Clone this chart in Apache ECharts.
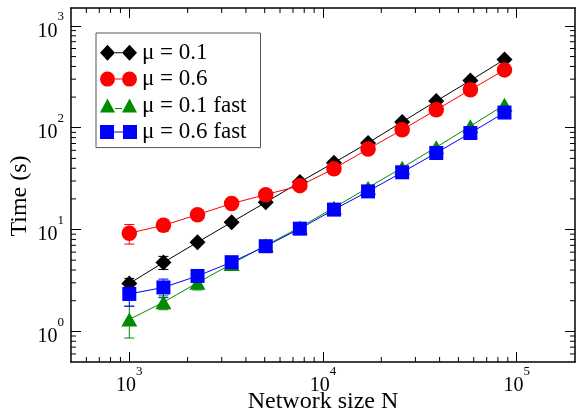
<!DOCTYPE html>
<html>
<head>
<meta charset="utf-8">
<script src="https://cdn.jsdelivr.net/npm/echarts@6/dist/echarts.min.js"></script>
<style>
  html, body { margin: 0; padding: 0; background: #fff; }
  #chart { width: 576px; height: 415px; }
</style>
</head>
<body>
<div id="chart"></div>
<script>
// Network sizes (N grows by a factor 1.5 per step)
const sizes = [1000, 1500, 2250, 3375, 5063, 7594, 11391, 17086, 25629, 38443, 57665, 86498];

// Running time in seconds
const timeMu01     = [2.95, 4.75, 7.5, 11.8, 18.5, 29.3, 45.4, 71, 114, 183, 291, 468];
const timeMu06     = [9.2, 11.0, 14.0, 18.0, 22.0, 27.0, 39.6, 61.8, 95.5, 150, 236, 370];
const timeMu01Fast = [1.31, 1.93, 3.0, 4.6, 7.0, 10.5, 16.4, 25.8, 40.5, 64.4, 103.5, 168];
const timeMu06Fast = [2.33, 2.7, 3.5, 4.78, 6.86, 10.2, 15.7, 23.7, 36.5, 56.5, 88.7, 141];

// Standard errors (0 = no bar drawn)
const errMu01     = [0.36, 0.7, 0, 0, 0, 0, 0, 0, 0, 0, 0, 0];
const errMu06     = [2.0, 1.4, 0, 0, 0, 0, 0, 0, 0, 0, 0, 0];
const errMu01Fast = [0.45, 0.3, 0.45, 0, 0, 0, 0, 0, 0, 0, 0, 0];
const errMu06Fast = [0.56, 0.56, 0, 0, 0, 0, 0, 0, 0, 0, 0, 0];

// Axis tick values
const xMajorTicks = [1e3, 1e4, 1e5];
const yMajorTicks = [1, 10, 100, 1000];
const xMinorTicks = [600, 700, 800, 900,
  2000, 3000, 4000, 5000, 6000, 7000, 8000, 9000,
  20000, 30000, 40000, 50000, 60000, 70000, 80000, 90000];
const yMinorTicks = [0.6, 0.7, 0.8, 0.9,
  2, 3, 4, 5, 6, 7, 8, 9,
  20, 30, 40, 50, 60, 70, 80, 90,
  200, 300, 400, 500, 600, 700, 800, 900];

const seriesNames = ['\u03bc = 0.1', '\u03bc = 0.6', '\u03bc = 0.1 fast', '\u03bc = 0.6 fast'];
const seriesColors = ['#000000', '#ff0000', '#008b00', '#0000ff'];

const FONT = '"Liberation Serif", "Times New Roman", serif';

const pairs = (ys) => sizes.map((n, i) => [n, ys[i]]);
const errTriples = (ys, es) => sizes.map((n, i) => [n, ys[i], es[i]]);

const powerLabel = (v) => {
  const e = Math.round(Math.log10(v));
  return '{b|10}{s|' + e + '}';
};
const powerRich = {
  b: { fontFamily: FONT, fontSize: 20, color: '#000', verticalAlign: 'bottom', lineHeight: 31 },
  s: { fontFamily: FONT, fontSize: 13, color: '#000', verticalAlign: 'top', lineHeight: 14 }
};

// Legend icons: two markers joined by a short line
const iconDiamond = 'path://M0,8L7.5,0L15,8L7.5,16Z M15,7.5H22V8.5H15Z M22,8L29.5,0L37,8L29.5,16Z';
const iconCircle = 'path://M0,8A7.5,7.5 0 1,1 15,8A7.5,7.5 0 1,1 0,8Z M15,7.5H22V8.5H15Z M22,8A7.5,7.5 0 1,1 37,8A7.5,7.5 0 1,1 22,8Z';
const iconTriangle = 'path://M0,15L7.5,1L15,15Z M15,10.5H22V11.5H15Z M22,15L29.5,1L37,15Z';
const iconSquare = 'path://M0,1H14V15H0Z M14,7.5H23V8.5H14Z M23,1H37V15H23Z';

function errorBarSeries(ys, es, color) {
  return {
    type: 'custom',
    silent: true,
    z: 2,
    data: errTriples(ys, es),
    renderItem: function (params, api) {
      const x = api.value(0), y = api.value(1), e = api.value(2);
      if (!e) return null;
      const hi = api.coord([x, y + e]);
      const lo = api.coord([x, y - e]);
      const half = 5;
      const st = { stroke: color, lineWidth: 1 };
      return {
        type: 'group',
        children: [
          { type: 'line', shape: { x1: hi[0], y1: hi[1], x2: lo[0], y2: lo[1] }, style: st },
          { type: 'line', shape: { x1: hi[0] - half, y1: hi[1], x2: hi[0] + half, y2: hi[1] }, style: st },
          { type: 'line', shape: { x1: lo[0] - half, y1: lo[1], x2: lo[0] + half, y2: lo[1] }, style: st }
        ]
      };
    }
  };
}

function lineSeries(idx, ys, symbol, size) {
  return {
    name: seriesNames[idx],
    type: 'line',
    data: pairs(ys),
    symbol: symbol,
    symbolSize: size,
    showAllSymbol: true,
    z: 3 + idx,
    lineStyle: { color: seriesColors[idx], width: 1 },
    itemStyle: { color: seriesColors[idx], opacity: 1 },
    emphasis: { disabled: true }
  };
}

const minorLen = 5;
const minorTickX = {
  type: 'custom',
  silent: true,
  z: 10,
  data: xMinorTicks.map(v => [v, 1]),
  renderItem: function (params, api) {
    const cs = params.coordSys;
    const p = api.coord([api.value(0), 1]);
    const st = { stroke: '#000', lineWidth: 1 };
    return {
      type: 'group',
      children: [
        { type: 'line', shape: { x1: p[0], y1: cs.y + cs.height, x2: p[0], y2: cs.y + cs.height - minorLen }, style: st },
        { type: 'line', shape: { x1: p[0], y1: cs.y, x2: p[0], y2: cs.y + minorLen }, style: st }
      ]
    };
  }
};
const minorTickY = {
  type: 'custom',
  silent: true,
  z: 10,
  data: yMinorTicks.map(v => [1000, v]),
  renderItem: function (params, api) {
    const cs = params.coordSys;
    const p = api.coord([1000, api.value(1)]);
    const st = { stroke: '#000', lineWidth: 1 };
    return {
      type: 'group',
      children: [
        { type: 'line', shape: { x1: cs.x, y1: p[1], x2: cs.x + minorLen, y2: p[1] }, style: st },
        { type: 'line', shape: { x1: cs.x + cs.width, y1: p[1], x2: cs.x + cs.width - minorLen, y2: p[1] }, style: st }
      ]
    };
  }
};

const axisLineStyle = { lineStyle: { color: '#000', width: 1.5 } };
const majorTick = (vals) => ({ show: true, inside: true, length: 10, customValues: vals, lineStyle: { color: '#000', width: 1 } });

const chart = echarts.init(document.getElementById('chart'), null, { renderer: 'canvas' });
chart.setOption({
  animation: false,
  backgroundColor: '#fff',
  grid: { left: 71, right: 1, top: 8, bottom: 53, containLabel: false, outerBoundsMode: 'none' },
  xAxis: [
    {
      type: 'log', logBase: 10, min: 500, max: 200000, position: 'bottom',
      axisLine: axisLineStyle,
      axisTick: majorTick(xMajorTicks),
      splitLine: { show: false },
      axisLabel: { customValues: xMajorTicks, formatter: powerLabel, rich: powerRich, margin: 3 },
      name: 'Network size N', nameLocation: 'middle', nameGap: 28, nameMoveOverlap: false,
      nameTextStyle: { fontFamily: FONT, fontSize: 24, color: '#000' }
    },
    {
      type: 'log', logBase: 10, min: 500, max: 200000, position: 'top',
      axisLine: axisLineStyle,
      axisTick: majorTick(xMajorTicks),
      splitLine: { show: false },
      axisLabel: { show: false }
    }
  ],
  yAxis: [
    {
      type: 'log', logBase: 10, min: 0.5, max: 1500, position: 'left',
      axisLine: axisLineStyle,
      axisTick: majorTick(yMajorTicks),
      splitLine: { show: false },
      axisLabel: { customValues: yMajorTicks, formatter: powerLabel, rich: powerRich, margin: 7 },
      name: 'Time (s)', nameLocation: 'middle', nameGap: 39, nameMoveOverlap: false,
      nameTextStyle: { fontFamily: FONT, fontSize: 24, color: '#000', padding: [0, 22, 0, 0] }
    },
    {
      type: 'log', logBase: 10, min: 0.5, max: 1500, position: 'right',
      axisLine: axisLineStyle,
      axisTick: majorTick(yMajorTicks),
      splitLine: { show: false },
      axisLabel: { show: false }
    }
  ],
  legend: {
    left: 96, top: 33,
    orient: 'vertical',
    selectedMode: false,
    padding: [8.2, 14, 4.2, 4],
    itemWidth: 37, itemHeight: 16, itemGap: 3.4,
    borderColor: '#555', borderWidth: 1,
    textStyle: { fontFamily: FONT, fontSize: 23, color: '#000' },
    data: [
      { name: seriesNames[0], icon: iconDiamond },
      { name: seriesNames[1], icon: iconCircle },
      { name: seriesNames[2], icon: iconTriangle },
      { name: seriesNames[3], icon: iconSquare }
    ]
  },
  series: [
    minorTickX,
    minorTickY,
    errorBarSeries(timeMu01, errMu01, seriesColors[0]),
    errorBarSeries(timeMu06, errMu06, seriesColors[1]),
    errorBarSeries(timeMu01Fast, errMu01Fast, seriesColors[2]),
    errorBarSeries(timeMu06Fast, errMu06Fast, seriesColors[3]),
    lineSeries(0, timeMu01, 'diamond', 16),
    lineSeries(1, timeMu06, 'circle', 15.5),
    lineSeries(2, timeMu01Fast, 'triangle', [16, 14]),
    lineSeries(3, timeMu06Fast, 'rect', 14)
  ]
});
</script>
</body>
</html>
